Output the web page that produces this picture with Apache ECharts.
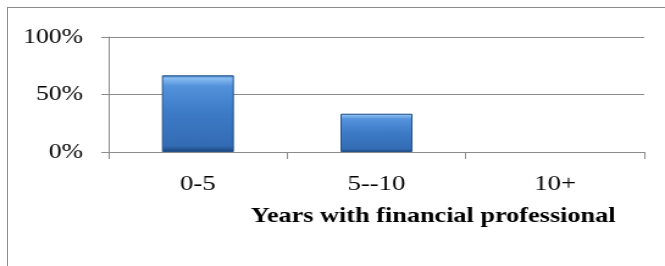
<!DOCTYPE html>
<html>
<head>
<meta charset="utf-8">
<script src="https://cdn.jsdelivr.net/npm/echarts@6/dist/echarts.min.js"></script>
<style>
html, body { margin: 0; padding: 0; background: #fff; overflow: hidden; }
#frame { position: absolute; left: 7px; top: 7px; width: 658px; height: 259px; border-left: 1px solid #8c8c8c; border-top: 1px solid #8c8c8c; }
/* the original picture is stretched sideways, so the chart is drawn narrow and widened */
#main { position: absolute; left: 0; top: 0; width: 545px; height: 266px; transform: scaleX(1.2202); transform-origin: 0 0; }
</style>
</head>
<body>
<div id="frame"></div>
<div id="main"></div>
<script>
var categories = ['0-5', '5--10', '10+'];
var shares = [0.667, 0.333, 0];
var yTicks = [0, 0.5, 1];
var axisTitle = 'Years with financial professional';

var font = "'Liberation Serif', 'Times New Roman', serif";
var gray = '#8c8c8c';

// empty bars get no outline, otherwise a blue line sits on the axis
var barData = shares.map(function (v) {
    return { value: v, itemStyle: { borderWidth: v > 0 ? 1 : 0 } };
});

var myChart = echarts.init(document.getElementById('main'));
var option = {
    animation: false,
    grid: { left: 89, right: 17, top: 37, bottom: 114 },
    xAxis: {
        type: 'category',
        data: categories,
        axisLine: { lineStyle: { color: gray, width: 1 } },
        axisTick: { show: true, length: 7, lineStyle: { color: gray } },
        axisLabel: { color: '#000', fontFamily: font, fontSize: 22, margin: 21 },
        name: axisTitle,
        nameLocation: 'middle',
        nameGap: 53,
        nameTextStyle: {
            color: '#000', fontFamily: font, fontSize: 21.5, fontWeight: 'bold',
            padding: [0, 0, 0, 93]
        }
    },
    yAxis: {
        type: 'value',
        min: yTicks[0],
        max: yTicks[yTicks.length - 1],
        interval: yTicks[1] - yTicks[0],
        axisLine: { show: true, lineStyle: { color: gray, width: 1 } },
        axisTick: { show: true, length: 6, lineStyle: { color: gray } },
        splitLine: { lineStyle: { color: gray, width: 1 } },
        axisLabel: {
            color: '#000', fontFamily: font, fontSize: 21, margin: 21,
            formatter: function (v) { return Math.round(v * 100) + '%'; }
        }
    },
    series: [{
        type: 'bar',
        data: barData,
        barWidth: 59,
        itemStyle: {
            borderColor: '#24528c',
            color: new echarts.graphic.LinearGradient(0, 0, 0, 1, [
                { offset: 0, color: '#3f7bc6' },
                { offset: 0.04, color: '#86bcf0' },
                { offset: 0.14, color: '#5592dc' },
                { offset: 0.5, color: '#3d7ac6' },
                { offset: 0.92, color: '#336cb4' },
                { offset: 1, color: '#1b4578' }
            ])
        }
    }]
};
myChart.setOption(option);
</script>
</body>
</html>
